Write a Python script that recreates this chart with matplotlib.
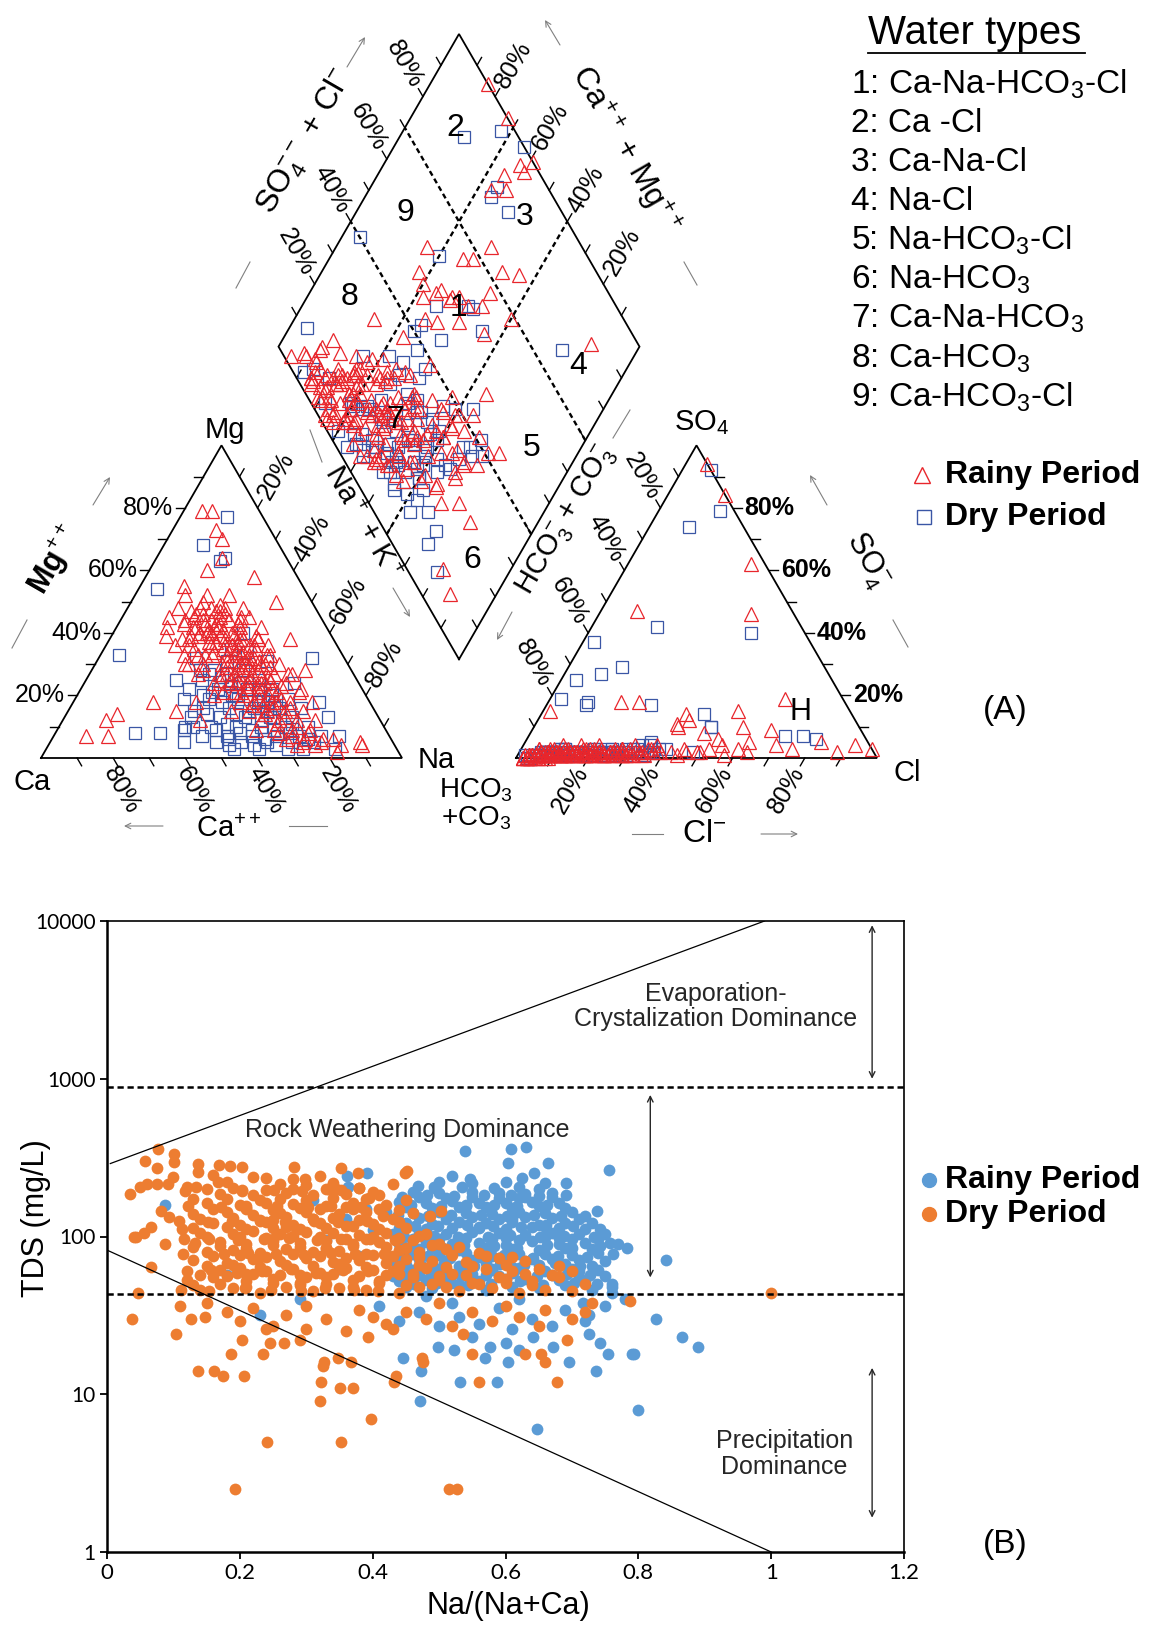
import numpy as np
import matplotlib
matplotlib.use('Agg')
import matplotlib.pyplot as plt
from matplotlib.lines import Line2D
from matplotlib.ticker import NullLocator

plt.rcParams.update({
    'font.family': ['Liberation Sans', 'DejaVu Sans'],
    'mathtext.fontset': 'custom',
    'mathtext.rm': 'Liberation Sans',
    'mathtext.it': 'Liberation Sans:italic',
    'mathtext.bf': 'Liberation Sans:bold',
})

# ---------------- Piper data (% meq/L) ; Na+K = 100-Ca-Mg , HCO3+CO3 = 100-Cl-SO4
rain_ca = [28, 34, 22, 32, 25, 38, 20, 28, 35, 22,
           42, 30, 24, 37, 18, 44, 27, 33, 21, 39,
           46, 29, 24, 35, 19, 41, 31, 26, 32, 21,
           38, 44, 28, 30, 24, 35, 19, 40, 27, 28,
           33, 22, 37, 17, 43, 31, 26, 36, 20, 40,
           29, 24, 34, 18, 39, 27, 32, 22, 36, 16,
           30, 25, 35, 20, 40, 28, 23, 33, 18, 26,
           31, 21, 36, 24, 29, 19, 16, 22, 27, 15,
           84, 78, 76, 72, 60, 16, 13, 15, 15, 18,
           12, 33, 24, 30, 21, 42, 50, 9, 9, 17,
           12, 10, 13, 48, 55, 40, 45, 20, 35, 28,
           30, 33, 26,
           26, 31, 29, 34, 25, 30, 27, 33, 23, 29,
           35, 26, 31, 24, 34, 28, 22, 32, 26, 30,
           24, 34, 28, 22, 32, 27, 30, 24, 33, 28,
           23, 31, 26, 29, 24, 30, 27, 22, 25, 20,
           36, 32, 27, 37, 40, 41, 38, 36, 21, 20,
           18, 17, 26, 30, 35, 33, 39, 42, 45, 44,
           29, 24, 33, 27, 31, 25, 35, 29, 23, 32,
           27, 36, 30, 25, 33, 28, 23, 31, 26, 35,
           29, 24, 33, 27, 31, 25, 29, 34, 26, 30,
           34, 29, 38, 31, 36, 40, 26, 33, 23, 28]
rain_mg = [52, 52, 52, 48, 48, 48, 48, 45, 45, 45,
           45, 42, 42, 42, 42, 42, 39, 39, 39, 39,
           39, 36, 36, 36, 36, 36, 36, 33, 33, 33,
           33, 33, 33, 30, 30, 30, 30, 30, 30, 27,
           27, 27, 27, 27, 27, 24, 24, 24, 24, 24,
           21, 21, 21, 21, 21, 18, 18, 18, 18, 18,
           15, 15, 15, 15, 15, 12, 12, 12, 12, 9,
           9, 9, 9, 6, 6, 6, 6, 4, 4, 4,
           7, 7, 12, 14, 18, 79, 79, 73, 70, 64,
           58, 55, 60, 43, 38, 20, 12, 5, 4, 2,
           38, 50, 28, 18, 15, 35, 30, 45, 25, 35,
           28, 40, 38,
           44, 44, 41, 40, 40, 38, 37, 37, 35, 34,
           34, 32, 31, 31, 29, 29, 29, 27, 26, 25,
           25, 24, 23, 23, 22, 20, 19, 19, 17, 16,
           16, 14, 13, 11, 10, 8, 7, 8, 5, 5,
           42, 46, 47, 39, 33, 28, 25, 21, 38, 33,
           27, 22, 49, 50, 47, 43, 43, 38, 36, 30,
           43, 43, 41, 40, 39, 38, 37, 36, 36, 35,
           34, 33, 33, 32, 31, 31, 30, 29, 28, 27,
           26, 26, 25, 24, 23, 22, 21, 20, 18, 17,
           46, 48, 44, 42, 40, 38, 46, 44, 44, 47]
rain_cl = [8, 15, 5, 12, 20, 6, 46, 10, 3, 18,
           7, 14, 25, 9, 52, 4, 16, 22, 11, 30,
           6, 13, 45, 19, 27, 8, 35, 21, 50, 10,
           15, 5, 28, 17, 55, 24, 32, 12, 66, 20,
           48, 14, 26, 38, 9, 23, 60, 16, 34, 42,
           18, 53, 29, 36, 58, 25, 62, 31, 40, 21,
           33, 54, 70, 28, 37, 30, 40, 75, 26, 35,
           20, 39, 16, 31, 25, 37, 42, 34, 28, 22,
           6, 3, 9, 4, 12, 2, 5, 8, 3, 14,
           7, 10, 16, 6, 97, 34, 42, 82, 5, 8,
           10, 4, 22, 65, 39, 10, 2, 88, 92, 63,
           57, 49, 44,
           9, 14, 6, 18, 12, 20, 7, 11, 16, 9,
           26, 13, 19, 6, 15, 24, 10, 30, 17, 8,
           21, 12, 27, 15, 19, 11, 22, 29, 14, 18,
           33, 24, 16, 28, 20, 26, 32, 18, 30, 24,
           5, 8, 4, 3, 10, 6, 13, 9, 17, 23,
           28, 19, 2, 5, 9, 2, 4, 3, 2, 5,
           12, 7, 16, 21, 5, 14, 9, 23, 18, 7,
           15, 12, 25, 19, 4, 11, 27, 20, 8, 17,
           13, 25, 6, 18, 10, 22, 15, 28, 12, 20,
           6, 10, 7, 3, 13, 8, 14, 18, 9, 16]
rain_so4 = [2, 1, 3, 1, 2, 0, 2, 2, 1, 3,
            1, 2, 1, 3, 3, 0, 1, 2, 4, 1,
            2, 2, 3, 1, 2, 3, 1, 4, 2, 1,
            2, 1, 3, 2, 4, 1, 2, 3, 9, 1,
            8, 2, 3, 2, 1, 2, 3, 4, 1, 12,
            2, 6, 1, 3, 10, 2, 5, 4, 14, 1,
            2, 15, 4, 3, 2, 1, 10, 3, 2, 3,
            18, 2, 2, 1, 18, 4, 2, 2, 1, 3,
            0, 1, 2, 0, 1, 0, 1, 0, 0, 2,
            1, 2, 84, 94, 3, 62, 46, 5, 3, 2,
            2, 1, 2, 19, 11, 47, 15, 2, 4, 2,
            1, 2, 1,
            1, 2, 1, 1, 2, 3, 1, 2, 1, 2,
            1, 3, 1, 2, 2, 1, 1, 2, 3, 1,
            2, 1, 2, 1, 3, 1, 2, 1, 2, 1,
            2, 1, 2, 3, 1, 2, 1, 2, 3, 1,
            1, 2, 0, 1, 2, 1, 2, 1, 2, 1,
            2, 1, 0, 1, 0, 0, 1, 0, 1, 0,
            1, 2, 1, 2, 1, 1, 2, 1, 2, 1,
            2, 1, 2, 1, 1, 2, 1, 2, 1, 2,
            1, 2, 1, 2, 1, 2, 1, 2, 1, 2,
            1, 2, 1, 0, 1, 2, 1, 2, 1, 2]

dry_ca = [30, 38, 27, 35, 43, 32, 40, 25, 48, 29,
          36, 44, 22, 51, 33, 40, 26, 47, 20, 30,
          37, 44, 24, 52, 34, 41, 27, 48, 21, 55,
          31, 38, 45, 25, 52, 19, 35, 42, 28, 49,
          22, 38, 30, 45, 26, 10, 19, 21, 17, 41,
          70, 63, 14, 9, 14, 14, 17, 24, 30, 26,
          33, 22, 37, 18, 47, 56, 58, 62, 45, 36,
          50, 28, 42, 41,
          33, 29, 37, 31, 41, 27, 35, 39, 29, 33,
          43, 25, 37, 31, 41, 27, 35, 45, 23, 39,
          33, 47, 30, 36, 42, 26, 50, 53, 46, 40]
dry_mg = [28, 28, 25, 25, 25, 22, 22, 22, 22, 19,
          19, 19, 19, 19, 16, 16, 16, 16, 16, 13,
          13, 13, 13, 13, 10, 10, 10, 10, 10, 10,
          7, 7, 7, 7, 7, 7, 5, 5, 5, 5,
          5, 3, 3, 3, 3, 77, 63, 68, 64, 32,
          8, 8, 7, 32, 18, 13, 3, 40, 35, 34,
          31, 31, 26, 24, 14, 9, 5, 33, 20, 20,
          25, 18, 28, 54,
          24, 22, 20, 18, 18, 17, 15, 14, 13, 12,
          11, 11, 9, 9, 8, 8, 6, 6, 6, 4,
          4, 9, 15, 23, 21, 20, 15, 10, 4, 27]
dry_cl = [8, 14, 20, 6, 11, 17, 4, 28, 9, 13,
          24, 7, 35, 3, 19, 10, 30, 5, 15, 22,
          12, 27, 8, 3, 18, 26, 11, 45, 33, 6,
          24, 14, 18, 29, 9, 37, 16, 21, 32, 49,
          13, 27, 11, 20, 38, 5, 11, 3, 7, 17,
          4, 10, 71, 10, 12, 9, 6, 8, 76, 15,
          40, 12, 30, 20, 36, 2, 48, 35, 80, 29,
          3, 49, 45, 9,
          10, 15, 21, 9, 16, 25, 12, 28, 18, 7,
          14, 22, 30, 16, 11, 26, 19, 8, 34, 24,
          15, 31, 35, 5, 23, 9, 13, 19, 27, 12]
dry_so4 = [2, 1, 3, 1, 18, 2, 25, 1, 2, 1,
           3, 2, 4, 0, 2, 27, 1, 1, 29, 2,
           3, 1, 2, 37, 1, 2, 3, 40, 4, 1,
           2, 1, 42, 3, 2, 2, 2, 1, 3, 10,
           1, 2, 17, 2, 3, 1, 74, 0, 2, 79,
           0, 1, 7, 2, 3, 1, 2, 92, 7, 2,
           3, 1, 2, 3, 2, 1, 2, 5, 6, 17,
           19, 10, 14, 2,
           1, 2, 1, 2, 1, 3, 1, 2, 1, 2,
           1, 2, 1, 2, 3, 1, 2, 1, 2, 1,
           2, 3, 1, 1, 2, 1, 2, 1, 2, 1]

# ---------------- Gibbs data : Na/(Na+Ca) and TDS (mg/L)
rain_ratio = [0.539, 0.609, 0.631, 0.604, 0.664, 0.520, 0.547, 0.643, 0.625, 0.468,
              0.494, 0.361, 0.391, 0.363, 0.691, 0.691, 0.444, 0.087, 0.756, 0.738,
              0.742, 0.783, 0.758, 0.762, 0.842, 0.826, 0.866, 0.890, 0.790, 0.794,
              0.799, 0.647, 0.471, 0.473, 0.446, 0.498, 0.523, 0.549, 0.531, 0.587,
              0.569, 0.576, 0.600, 0.604, 0.620, 0.642, 0.671, 0.695, 0.737, 0.726,
              0.742, 0.755, 0.726, 0.717, 0.180, 0.440, 0.470, 0.500, 0.530, 0.560,
              0.590, 0.610, 0.640, 0.670, 0.690, 0.720, 0.750, 0.760, 0.780, 0.520,
              0.620, 0.410, 0.480, 0.230, 0.290, 0.450, 0.490, 0.530, 0.570, 0.610,
              0.650, 0.690, 0.730, 0.760, 0.430, 0.470, 0.510, 0.550, 0.590, 0.630,
              0.670, 0.710, 0.750, 0.450, 0.490, 0.530, 0.570, 0.610, 0.650, 0.690,
              0.730, 0.420, 0.460, 0.500, 0.540, 0.580, 0.620, 0.660, 0.700, 0.740,
              0.440, 0.480, 0.520, 0.560, 0.600, 0.640, 0.680, 0.720, 0.770, 0.430,
              0.470, 0.510, 0.550, 0.590, 0.630, 0.670, 0.710, 0.750, 0.450, 0.490,
              0.530, 0.570, 0.610, 0.650, 0.690, 0.730, 0.420, 0.460, 0.500, 0.540,
              0.580, 0.620, 0.660, 0.700, 0.440, 0.480, 0.520, 0.560, 0.600, 0.640,
              0.680, 0.460, 0.500, 0.550, 0.590, 0.630, 0.670, 0.330, 0.360, 0.380,
              0.350, 0.400, 0.390, 0.310, 0.570, 0.600, 0.660, 0.700, 0.540, 0.620,
              0.500, 0.580, 0.640, 0.680, 0.720, 0.470, 0.560, 0.610, 0.650, 0.710,
              0.440, 0.480, 0.520, 0.560, 0.600, 0.640, 0.680, 0.720, 0.760, 0.460,
              0.500, 0.540, 0.580, 0.620, 0.660, 0.700, 0.740, 0.430, 0.470, 0.510,
              0.550, 0.590, 0.630, 0.670, 0.710, 0.750, 0.450, 0.490, 0.530, 0.570,
              0.610, 0.650, 0.690, 0.730, 0.460, 0.500, 0.540, 0.580, 0.620, 0.660,
              0.700, 0.740, 0.440, 0.480, 0.520, 0.560, 0.600, 0.640, 0.680, 0.720,
              0.470, 0.510, 0.550, 0.590, 0.630, 0.670, 0.710, 0.450, 0.490, 0.530,
              0.570, 0.610, 0.650, 0.690, 0.470, 0.510, 0.550, 0.590, 0.630, 0.670,
              0.500, 0.550, 0.600, 0.660,
              0.462, 0.497, 0.543, 0.578, 0.622, 0.657, 0.703, 0.738,
              0.452, 0.488, 0.533, 0.571, 0.612, 0.648, 0.693, 0.727,
              0.473, 0.508, 0.553, 0.592, 0.628, 0.674, 0.712,
              0.443, 0.484, 0.517, 0.562, 0.598, 0.641, 0.679, 0.723,
              0.458, 0.503, 0.538, 0.583, 0.617, 0.662, 0.698, 0.743,
              0.447, 0.492, 0.528, 0.573, 0.607, 0.652, 0.688, 0.733,
              0.463, 0.498, 0.542, 0.581, 0.623, 0.661, 0.702,
              0.438, 0.483, 0.518, 0.563, 0.602, 0.643, 0.683,
              0.457, 0.503, 0.541, 0.582, 0.618, 0.662,
              0.482, 0.523, 0.568, 0.608, 0.651,
              0.492, 0.534, 0.583, 0.621]
rain_tds = [347, 359, 367, 291, 291, 243, 232, 251, 235, 209,
            204, 243, 251, 205, 182, 219, 178, 158, 265, 146,
            112, 85, 91, 78, 71, 30, 23, 20, 18, 18,
            8, 6, 9, 14, 17, 20, 19, 23, 12, 12,
            17, 20, 21, 16, 19, 23, 20, 16, 14, 24,
            21, 18, 32, 38, 57, 29, 33, 27, 31, 28,
            35, 26, 30, 27, 34, 29, 36, 44, 40, 38,
            40, 36, 42, 32, 40, 48, 47, 49, 46, 48,
            47, 49, 46, 48, 56, 57, 55, 58, 56, 54,
            57, 55, 56, 66, 67, 65, 68, 64, 66, 67,
            65, 77, 78, 76, 79, 75, 77, 78, 76, 79,
            90, 92, 89, 91, 88, 93, 90, 91, 89, 104,
            106, 103, 107, 105, 102, 106, 104, 103, 122, 120,
            124, 121, 123, 119, 122, 121, 142, 140, 144, 141,
            139, 143, 140, 142, 166, 163, 167, 164, 162, 166,
            163, 191, 188, 192, 189, 187, 190, 95, 130, 75,
            62, 110, 150, 170, 85, 98, 115, 84, 155, 175,
            60, 62, 72, 98, 135, 83, 115, 130, 200, 60,
            52, 53, 51, 52, 54, 51, 53, 52, 50, 61,
            62, 60, 61, 63, 60, 62, 61, 71, 72, 70,
            71, 73, 70, 72, 71, 70, 83, 84, 82, 85,
            83, 82, 84, 83, 97, 96, 98, 97, 95, 99,
            97, 96, 113, 112, 114, 113, 111, 115, 113, 112,
            131, 130, 132, 129, 133, 131, 130, 153, 152, 154,
            153, 151, 155, 152, 177, 176, 178, 175, 179, 177,
            220, 218, 222, 219,
            50, 51, 49, 50, 52, 49, 51, 50,
            57, 58, 56, 57, 59, 56, 58, 57,
            66, 68, 65, 67, 66, 68, 65,
            74, 75, 73, 74, 76, 73, 75, 74,
            87, 86, 88, 87, 85, 88, 86, 87,
            100, 101, 99, 100, 102, 99, 101, 100,
            117, 116, 118, 117, 115, 118, 116,
            136, 135, 137, 136, 134, 137, 135,
            158, 157, 159, 158, 156, 159,
            182, 181, 183, 182, 180,
            205, 207, 204, 206]

dry_ratio = [0.077, 0.057, 0.101, 0.101, 0.075, 0.137, 0.137, 0.169, 0.185, 0.203,
             0.282, 0.352, 0.378, 0.449, 0.452, 0.035, 0.050, 0.060, 0.076, 0.092,
             0.120, 0.134, 0.167, 0.180, 0.204, 0.240, 0.280, 0.298, 0.332, 0.345,
             0.380, 0.395, 0.416, 0.450, 0.487, 0.503, 0.041, 0.067, 0.081, 0.093,
             0.113, 0.133, 0.088, 0.055, 0.193, 0.515, 0.527, 0.241, 0.352, 0.397,
             0.320, 0.322, 0.351, 0.370, 0.432, 0.435, 0.137, 0.161, 0.175, 0.206,
             0.186, 0.203, 0.104, 0.038, 0.127, 0.147, 0.235, 0.246, 0.266, 0.326,
             0.325, 0.348, 0.368, 0.393, 0.474, 0.476, 0.549, 0.560, 0.630, 0.654,
             0.660, 0.678, 0.692, 0.536, 1.000, 0.787, 0.047, 0.066, 0.043, 0.110,
             0.150, 0.180, 0.200, 0.220, 0.250, 0.270, 0.300, 0.300, 0.330, 0.360,
             0.380, 0.420, 0.450, 0.480, 0.500, 0.520, 0.550, 0.580, 0.600, 0.620,
             0.650, 0.660, 0.700, 0.720, 0.730, 0.430, 0.290, 0.240, 0.400, 0.140,
             0.190, 0.230, 0.270, 0.310, 0.350, 0.390, 0.440, 0.470, 0.530, 0.580,
             0.620, 0.660, 0.700, 0.120, 0.160, 0.210, 0.250, 0.290, 0.330, 0.370,
             0.410, 0.460, 0.500, 0.550, 0.600, 0.640, 0.680, 0.720, 0.170, 0.200,
             0.240, 0.280, 0.320, 0.360, 0.400, 0.430, 0.480, 0.520, 0.570, 0.610,
             0.650, 0.700, 0.130, 0.180, 0.220, 0.260, 0.300, 0.340, 0.380, 0.420,
             0.450, 0.490, 0.540, 0.590, 0.630, 0.150, 0.190, 0.230, 0.270, 0.310,
             0.350, 0.390, 0.440, 0.470, 0.510, 0.560, 0.170, 0.210, 0.250, 0.290,
             0.330, 0.370, 0.410, 0.460, 0.500, 0.140, 0.190, 0.220, 0.260, 0.300,
             0.340, 0.380, 0.420, 0.480, 0.160, 0.200, 0.240, 0.280, 0.320, 0.360,
             0.400, 0.440, 0.130, 0.180, 0.220, 0.260, 0.300, 0.350, 0.390, 0.460,
             0.150, 0.200, 0.240, 0.280, 0.330, 0.370, 0.420, 0.170, 0.220, 0.270,
             0.310, 0.360, 0.410, 0.260, 0.300, 0.340, 0.430, 0.210, 0.250, 0.310,
             0.230, 0.350, 0.270, 0.330, 0.290, 0.210, 0.390, 0.250, 0.370, 0.440,
             0.130, 0.170, 0.210, 0.250, 0.290, 0.330, 0.370, 0.410, 0.450, 0.490,
             0.510, 0.560, 0.600, 0.640, 0.140, 0.180, 0.220, 0.260, 0.300, 0.340,
             0.380, 0.420, 0.460, 0.500, 0.540, 0.590, 0.630, 0.670, 0.150, 0.190,
             0.230, 0.270, 0.310, 0.350, 0.390, 0.440, 0.470, 0.510, 0.550, 0.600,
             0.680, 0.160, 0.200, 0.240, 0.280, 0.320, 0.360, 0.400, 0.430, 0.470,
             0.520, 0.570, 0.610, 0.130, 0.170, 0.210, 0.250, 0.290, 0.330, 0.370,
             0.420, 0.450, 0.490, 0.530, 0.150, 0.200, 0.240, 0.280, 0.320, 0.360,
             0.400, 0.440, 0.470, 0.130, 0.180, 0.210, 0.250, 0.290, 0.330, 0.370,
             0.410, 0.450, 0.140, 0.190, 0.230, 0.270, 0.310, 0.340, 0.380, 0.430,
             0.160, 0.210, 0.250, 0.290, 0.320, 0.360, 0.410, 0.440, 0.130, 0.180,
             0.230, 0.260, 0.300, 0.340, 0.390, 0.150, 0.190, 0.240, 0.280, 0.330,
             0.380, 0.100, 0.160, 0.220, 0.320,
             0.112, 0.153, 0.208, 0.247, 0.292, 0.328, 0.372, 0.408,
             0.121, 0.157, 0.196, 0.233, 0.277, 0.314, 0.356, 0.393,
             0.114, 0.176, 0.213, 0.254, 0.296, 0.337, 0.373, 0.417,
             0.116, 0.154, 0.197, 0.236, 0.274, 0.316, 0.353, 0.396, 0.434,
             0.108, 0.152, 0.188, 0.231, 0.268, 0.312, 0.348, 0.392,
             0.122, 0.171, 0.209, 0.256, 0.302, 0.338, 0.382,
             0.118, 0.204, 0.252, 0.293, 0.352, 0.401]
dry_tds = [359, 302, 331, 295, 270, 290, 256, 284, 280, 276,
           276, 270, 251, 251, 262, 187, 207, 214, 214, 214,
           206, 206, 223, 223, 196, 236, 230, 230, 200, 200,
           204, 175, 135, 170, 135, 145, 100, 115, 145, 132,
           112, 91, 90, 105, 2.5, 2.5, 2.5, 5, 5, 7,
           9, 12, 11, 11, 12, 13, 14, 14, 13, 13,
           18, 22, 24, 30, 30, 31, 18, 21, 21, 16,
           15, 17, 16, 23, 17, 16, 18, 12, 18, 18,
           16, 12, 22, 24, 44, 39, 44, 64, 100, 36,
           38, 33, 29, 35, 27, 32, 26, 36, 30, 25,
           34, 28, 33, 30, 38, 27, 33, 29, 36, 31,
           27, 34, 30, 33, 38, 26, 22, 26, 31, 46,
           47, 44, 48, 45, 47, 46, 44, 48, 45, 47,
           44, 46, 45, 53, 55, 52, 54, 51, 55, 53,
           52, 55, 53, 51, 54, 52, 55, 50, 61, 63,
           60, 62, 59, 63, 61, 60, 63, 58, 62, 60,
           62, 60, 71, 68, 72, 70, 73, 69, 71, 68,
           72, 70, 69, 73, 70, 80, 82, 79, 83, 80,
           81, 78, 82, 80, 83, 79, 92, 90, 94, 91,
           93, 89, 92, 95, 90, 106, 104, 108, 103, 107,
           105, 102, 106, 104, 121, 118, 123, 119, 122, 117,
           120, 124, 139, 142, 137, 141, 144, 138, 142, 140,
           162, 158, 164, 160, 157, 163, 159, 186, 183, 188,
           184, 187, 182, 216, 212, 218, 214, 150, 97, 130,
           74, 66, 115, 85, 57, 58, 96, 128, 150, 58,
           49, 50, 48, 51, 49, 50, 48, 51, 49, 50,
           48, 50, 51, 49, 57, 56, 58, 57, 55, 58,
           56, 57, 58, 56, 57, 55, 58, 57, 65, 66,
           64, 66, 65, 67, 64, 65, 66, 64, 65, 66,
           65, 75, 76, 74, 77, 75, 73, 76, 75, 74,
           76, 75, 74, 86, 87, 85, 88, 86, 84, 87,
           86, 85, 88, 86, 99, 100, 98, 101, 99, 97,
           100, 98, 101, 113, 115, 112, 114, 111, 113, 116,
           112, 114, 130, 131, 128, 132, 129, 131, 127, 130,
           150, 152, 148, 151, 149, 153, 150, 147, 172, 174,
           171, 173, 170, 175, 172, 200, 203, 198, 201, 199,
           202, 240, 245, 238, 242,
           46, 45, 47, 46, 45, 47, 46, 45,
           60, 61, 59, 60, 62, 59, 61, 60,
           78, 77, 79, 78, 76, 79, 77, 78,
           96, 97, 95, 96, 98, 95, 97, 96, 95,
           125, 124, 126, 125, 123, 126, 124, 125,
           155, 154, 156, 155, 153, 156, 154,
           195, 193, 197, 194, 196, 192]

upper_x, upper_tds = [0.005, 0.99], [290, 10000]
lower_x, lower_tds = [0.0, 1.0], [82, 1]
tds_limits = [890, 43]

water_types = [r'1: Ca-Na-HCO$_3$-Cl', '2: Ca -Cl', '3: Ca-Na-Cl', '4: Na-Cl',
               r'5: Na-HCO$_3$-Cl', r'6: Na-HCO$_3$', r'7: Ca-Na-HCO$_3$',
               r'8: Ca-HCO$_3$', r'9: Ca-HCO$_3$-Cl']

RED, BLUE = '#e8262c', '#3a56a5'
ORANGE, SKY = '#ed7d31', '#5b9bd5'

# ---------------- geometry (1 unit = one triangle side = 361 px)
W, H = 1153, 1625
S = 361.0
X0, Y0 = 41.0, 758.0
GAP = 114.0 / S
R3 = np.sqrt(3) / 2
AX = 1 + GAP
B = np.array([1 + GAP / 2, GAP * R3])
L = B + [-0.5, R3]
T = B + [0, 2 * R3]
R = B + [0.5, R3]


def u(px, py):
    return (px - X0) / S, (Y0 - py) / S


def fxy(px, py):
    return px / W, 1 - py / H


def project(ca, mg, cl, so4):
    ca, mg, cl, so4 = (np.asarray(a, float) / 100 for a in (ca, mg, cl, so4))
    na = 1 - ca - mg
    cx, cy = na + 0.5 * mg, R3 * mg
    axx, ayy = AX + cl + 0.5 * so4, R3 * so4
    s, c = cl + so4, ca + mg
    dx, dy = B[0] + 0.5 * (s - c), B[1] + R3 * (s + c)
    return (cx, cy), (axx, ayy), (dx, dy)


fig = plt.figure(figsize=(W / 100, H / 100), dpi=100)
ax = fig.add_axes([0, 0, 1, 1])
ax.set_xlim(-X0 / S, (W - X0) / S)
ax.set_ylim((Y0 - H) / S, Y0 / S)
ax.axis('off')

# frames
for pts in ([(0, 0), (1, 0), (0.5, R3), (0, 0)],
            [(AX, 0), (AX + 1, 0), (AX + 0.5, R3), (AX, 0)],
            [tuple(B), tuple(R), tuple(T), tuple(L), tuple(B)]):
    xs, ys = zip(*pts)
    ax.plot(xs, ys, color='k', lw=1.3, solid_joinstyle='miter')

# dashed subdivisions of the diamond
for v in (0.4, 0.7):
    p0 = B + v * np.array([0.5, R3])            # const SO4+Cl
    p1 = p0 + np.array([-0.5, R3])
    ax.plot([p0[0], p1[0]], [p0[1], p1[1]], color='k', lw=1.7, ls=(0, (2.2, 1.5)))
    q0 = B + v * np.array([-0.5, R3])           # const Ca+Mg
    q1 = q0 + np.array([0.5, R3])
    ax.plot([q0[0], q1[0]], [q0[1], q1[1]], color='k', lw=1.7, ls=(0, (2.2, 1.5)))

d60 = np.array([0.5, R3]); dm60 = np.array([0.5, -R3])
d120 = np.array([-0.5, R3]); d240 = np.array([-0.5, -R3])
left = np.array([-1.0, 0]); right = np.array([1.0, 0])
TL = 9 / S


def ticks(p0, p1, dvec):
    p0, p1 = np.asarray(p0, float), np.asarray(p1, float)
    for k in range(1, 10):
        p = p0 + (p1 - p0) * k / 10
        q = p + TL * dvec
        ax.plot([p[0], q[0]], [p[1], q[1]], color='k', lw=1.0)


ticks((0, 0), (0.5, R3), left)
ticks((0.5, R3), (1, 0), d60)
ticks((0, 0), (1, 0), dm60)
ticks((AX + 0.5, R3), (AX, 0), d120)
ticks((AX, 0), (AX + 1, 0), d240)
ticks((AX + 1, 0), (AX + 0.5, R3), right)
ticks(L, T, d120)
ticks(R, T, d60)
ticks(B, L, d60)
ticks(B, R, d120)

PF = 18
lab_off = TL + 3 / S
for v in (20, 40, 60, 80):
    f = v / 100
    txt = f'{v}%'
    p = np.array([0.5 * f, R3 * f]) + lab_off * left
    ax.text(p[0], p[1], txt, fontsize=PF, ha='right', va='center')
    p = np.array([0.5 + 0.5 * f, R3 * (1 - f)]) + lab_off * d60
    ax.text(p[0], p[1], txt, fontsize=PF, ha='left', va='center', rotation=60, rotation_mode='anchor')
    p = np.array([1 - f, 0]) + lab_off * dm60 + np.array([-10 / S, 0])
    ax.text(p[0], p[1], txt, fontsize=PF, ha='left', va='center', rotation=-60, rotation_mode='anchor')
    p = np.array([AX + 0.5 - 0.5 * f, R3 * (1 - f)]) + lab_off * d120
    ax.text(p[0], p[1], txt, fontsize=PF, ha='right', va='center', rotation=-60, rotation_mode='anchor')
    p = np.array([AX + f, 0]) + lab_off * d240
    ax.text(p[0], p[1], txt, fontsize=PF, ha='right', va='center', rotation=60, rotation_mode='anchor')
    p = np.array([AX + 1 - 0.5 * f, R3 * f]) + lab_off * right
    ax.text(p[0], p[1], txt, fontsize=PF, ha='left', va='center', fontweight='bold')
    p = L + f * d60 + lab_off * d120
    ax.text(p[0], p[1], txt, fontsize=PF, ha='right', va='center', rotation=-60, rotation_mode='anchor')
    p = R + f * d120 + lab_off * d60
    ax.text(p[0], p[1], txt, fontsize=PF, ha='left', va='center', rotation=60, rotation_mode='anchor')

# region numbers
regions = {'1': (458, 308), '2': (455, 128), '3': (525, 217), '4': (578, 366),
           '5': (532, 448), '6': (472, 560), '7': (395, 420), '8': (350, 297), '9': (405, 213)}
for k, (px, py) in regions.items():
    ax.text(*u(px, py), k, fontsize=23, ha='center', va='center')


# corner / axis titles
def put(px, py, s, size=21, rot=0, **kw):
    ax.text(*u(px, py), s, fontsize=size, ha='center', va='center', rotation=rot,
            rotation_mode='anchor', **kw)


put(225, 430, 'Mg')
put(32, 782, 'Ca')
put(436, 760, 'Na')
put(702, 423, r'SO$_4$')
put(907, 773, 'Cl')
put(476, 804, 'HCO$_3$\n+CO$_3$', size=20, linespacing=1.0)
put(55, 560, r'Mg$^{++}$', size=22, rot=60, fontweight='bold')
put(362, 523, r'Na$^+$ + K$^+$', size=21, rot=-60)
put(229, 829, r'Ca$^{++}$', size=21)
put(306, 142, r'SO$_4^{--}$ + Cl$^{-}$', size=23, rot=60)
put(625, 150, r'Ca$^{++}$ + Mg$^{++}$', size=23, rot=-60)
put(566, 520, r'HCO$_3^{-}$ + CO$_3^{-}$', size=21, rot=60)
put(866, 560, r'SO$_4^{-}$', size=22, rot=-60)
put(704, 834, r'Cl$^{-}$', size=23)
put(800, 712, 'H', size=22)
put(1005, 710, '(A)', size=24)

# little grey direction arrows
for (x1, y1), (x2, y2) in [((93, 505), (110, 477)), ((163, 826), (124, 826)),
                           ((393, 588), (410, 617)), ((347, 67), (365, 37)),
                           ((560, 45), (545, 20)), ((512, 612), (497, 640)),
                           ((827, 505), (810, 475)), ((761, 834), (798, 834))]:
    ax.annotate('', xy=u(x2, y2), xytext=u(x1, y1),
                arrowprops=dict(arrowstyle='->', color='0.5', lw=0.8, shrinkA=0, shrinkB=0))
for (x1, y1), (x2, y2) in [((12, 648), (27, 620)), ((289, 826), (327, 826)),
                           ((310, 430), (322, 462)), ((630, 410), (613, 438)),
                           ((893, 620), (908, 647)), ((632, 834), (663, 834)),
                           ((236, 288), (250, 262)), ((684, 262), (697, 285))]:
    (a, b), (c, d) = u(x1, y1), u(x2, y2)
    ax.plot([a, c], [b, d], color='0.5', lw=0.8)

# sample points
for ca, mg, cl, so4, mk, col, ms in ((dry_ca, dry_mg, dry_cl, dry_so4, 's', BLUE, 8.5),
                                     (rain_ca, rain_mg, rain_cl, rain_so4, '^', RED, 10)):
    for xy in project(ca, mg, cl, so4):
        ax.plot(xy[0], xy[1], ls='none', marker=mk, ms=ms, mfc='none', mec=col, mew=0.9,
                clip_on=False)

# water types block
fig.text(*fxy(975, 33), 'Water types', fontsize=29, ha='center', va='center')
fig.add_artist(Line2D([868 / W, 1085 / W], [1 - 53 / H] * 2, color='k', lw=1.3))
for i, s in enumerate(water_types):
    fig.text(*fxy(851, 84 + 39.2 * i), s, fontsize=24, ha='left', va='center')

# Piper legend
fig.add_artist(Line2D([922 / W], [1 - 475 / H], marker='^', ms=11, mfc='none', mec=RED, mew=1.0))
fig.add_artist(Line2D([924 / W], [1 - 517 / H], marker='s', ms=9.5, mfc='none', mec=BLUE, mew=1.0))
fig.text(*fxy(945, 475), 'Rainy Period', fontsize=23, fontweight='bold', va='center')
fig.text(*fxy(945, 517), 'Dry Period', fontsize=23, fontweight='bold', va='center')

# ---------------- Gibbs diagram
axg = fig.add_axes([107 / W, 1 - 1552 / H, 797 / W, 631 / H])
axg.scatter(rain_ratio, rain_tds, s=72, color=SKY, linewidths=0, zorder=2)
axg.scatter(dry_ratio, dry_tds, s=72, color=ORANGE, linewidths=0, zorder=2)
axg.plot(upper_x, upper_tds, color='k', lw=0.9, zorder=3)
axg.plot(lower_x, lower_tds, color='k', lw=0.9, zorder=3)
for lev in tds_limits:
    axg.axhline(lev, color='k', lw=1.8, ls=(0, (2.5, 1.5)), zorder=3)
axg.set_yscale('log')
axg.set_xlim(0, 1.2)
axg.set_ylim(1, 10000)
axg.set_xticks([0, 0.2, 0.4, 0.6, 0.8, 1.0, 1.2])
axg.set_xticklabels(['0', '0.2', '0.4', '0.6', '0.8', '1', '1.2'], fontfamily='Lato', fontsize=16)
axg.set_yticks([1, 10, 100, 1000, 10000])
axg.set_yticklabels(['1', '10', '100', '1000', '10000'], fontfamily='Lato', fontsize=15)
axg.yaxis.set_minor_locator(NullLocator())
axg.tick_params(direction='out', length=5, width=1.3, pad=3)
for sp in axg.spines.values():
    sp.set_linewidth(1.2)
axg.spines['left'].set_linewidth(1.8)
axg.spines['bottom'].set_linewidth(1.8)

arw = dict(arrowstyle='<->', color='0.15', lw=1.0, shrinkA=0, shrinkB=0)
axg.annotate('', xy=(1.152, 9400), xytext=(1.152, 1000), arrowprops=arw)
axg.annotate('', xy=(0.818, 790), xytext=(0.818, 55), arrowprops=arw)
axg.annotate('', xy=(1.152, 14.7), xytext=(1.152, 1.65), arrowprops=arw)
axg.text(0.916, 2870, 'Evaporation-\nCrystalization Dominance', fontsize=18, ha='center',
         va='center', color='0.15', linespacing=1.05)
axg.text(0.452, 470, 'Rock Weathering Dominance', fontsize=18, ha='center', va='center', color='0.15')
axg.text(1.02, 4.2, 'Precipitation\nDominance', fontsize=18, ha='center', va='center',
         color='0.15', linespacing=1.1)
fig.text(*fxy(36, 1218), 'TDS (mg/L)', fontsize=22, rotation=90, ha='center', va='center')
fig.text(*fxy(508, 1606), 'Na/(Na+Ca)', fontsize=22, ha='center', va='center')

fig.add_artist(Line2D([929 / W], [1 - 1180 / H], marker='o', ms=10, color=SKY, ls='none'))
fig.add_artist(Line2D([929 / W], [1 - 1214 / H], marker='o', ms=10, color=ORANGE, ls='none'))
fig.text(*fxy(945, 1180), 'Rainy Period', fontsize=23, fontweight='bold', va='center')
fig.text(*fxy(945, 1214), 'Dry Period', fontsize=23, fontweight='bold', va='center')
fig.text(*fxy(1005, 1544), '(B)', fontsize=24, ha='center', va='center')

fig.savefig('out.png', dpi=100)
